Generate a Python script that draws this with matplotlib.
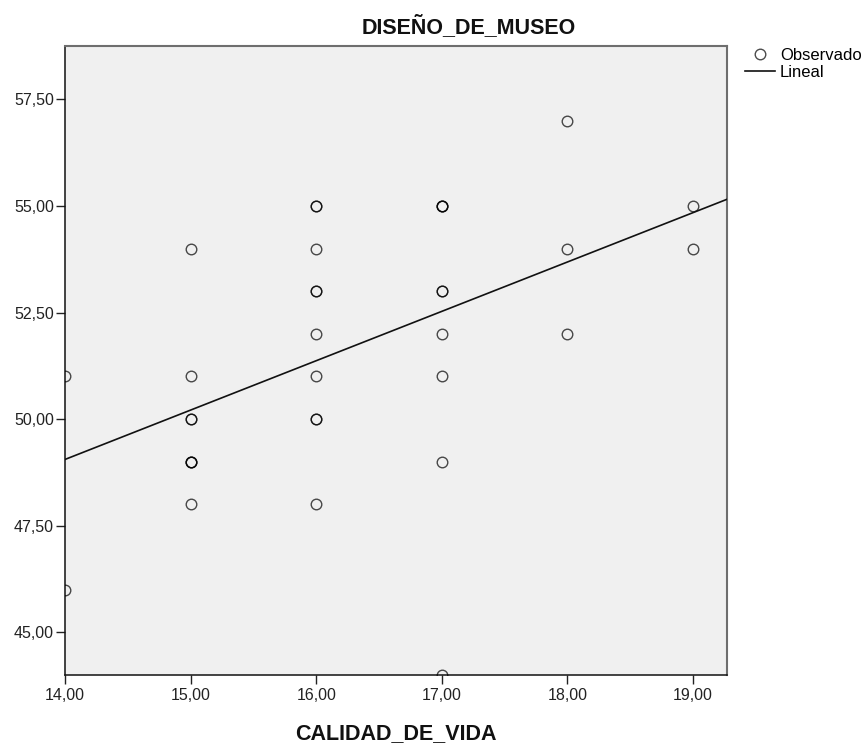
import numpy as np
import matplotlib
matplotlib.use('Agg')
import matplotlib.pyplot as plt
from matplotlib.lines import Line2D

plt.rcParams['font.family'] = ['Liberation Sans', 'DejaVu Sans']

# datos (puntos repetidos se cuentan varias veces)
calidad_de_vida = [14, 14,
                   15, 15, 15, 15, 15, 15, 15, 15,
                   16, 16, 16, 16, 16, 16, 16, 16, 16, 16,
                   17, 17, 17, 17, 17, 17, 17, 17, 17,
                   18, 18, 18,
                   19, 19]
diseno_de_museo = [51, 46,
                   54, 51, 50, 50, 49, 49, 49, 48,
                   55, 55, 54, 53, 53, 52, 51, 50, 50, 48,
                   55, 55, 55, 53, 53, 52, 51, 49, 44,
                   57, 54, 52,
                   55, 54]

x_ticks = [14, 15, 16, 17, 18, 19]
x_labels = ['14,00', '15,00', '16,00', '17,00', '18,00', '19,00']
y_ticks = [45, 47.5, 50, 52.5, 55, 57.5]
y_labels = ['45,00', '47,50', '50,00', '52,50', '55,00', '57,50']

x = np.array(calidad_de_vida, dtype=float)
y = np.array(diseno_de_museo, dtype=float)

fig = plt.figure(figsize=(8.64, 7.45), dpi=100)
ax = fig.add_axes([65 / 864, 1 - 675 / 745, (727 - 65) / 864, (675 - 46) / 745])
ax.set_facecolor('#f0f0f0')

# puntos observados
ax.plot(x, y, 'o', ms=7.6, mfc='none', mec=(0, 0, 0, 0.7), mew=1.0,
        clip_on=True, zorder=3)

# ajuste lineal
xmin, xmax = 14, 19.27
pend, inter = np.polyfit(x, y, 1)
xl = np.array([xmin, xmax])
ax.plot(xl, inter + pend * xl, color='#111111', lw=1.2, zorder=4)

ax.set_xlim(xmin, xmax)
ax.set_ylim(44, 58.75)
ax.set_xticks(x_ticks)
ax.set_xticklabels(x_labels)
ax.set_yticks(y_ticks)
ax.set_yticklabels(y_labels)
ax.tick_params(axis='both', length=6.5, width=1.0, color='#222222',
               labelsize=11.5, labelcolor='#222222')
ax.tick_params(axis='y', pad=1.5)
ax.tick_params(axis='x', pad=3)

for s in ['left', 'bottom']:
    ax.spines[s].set_color('#111111')
    ax.spines[s].set_linewidth(1.1)
for s in ['top', 'right']:
    ax.spines[s].set_color('#6e6e6e')
    ax.spines[s].set_linewidth(1.5)

fig.text(362 / 864, 1 - 33 / 745, 'DISEÑO_DE_MUSEO', fontsize=15.5,
         fontweight='bold', ha='left', va='baseline', color='#111111')
fig.text(396 / 864, 1 - 739 / 745, 'CALIDAD_DE_VIDA', fontsize=15.5,
         fontweight='bold', ha='center', va='baseline', color='#111111')

handles = [Line2D([], [], ls='none', marker='o', ms=7.6, mfc='none',
                  mec=(0, 0, 0, 0.7), mew=1.0),
           Line2D([], [], color='#111111', lw=1.2)]
fig.legend(handles, ['Observado', 'Lineal'], loc='upper left',
           bbox_to_anchor=(745 / 864, 1 - 48 / 745), frameon=False,
           fontsize=12, handlelength=1.8, handletextpad=0.3,
           labelspacing=0.1, borderpad=0, borderaxespad=0)

fig.savefig('out.png', dpi=100)
